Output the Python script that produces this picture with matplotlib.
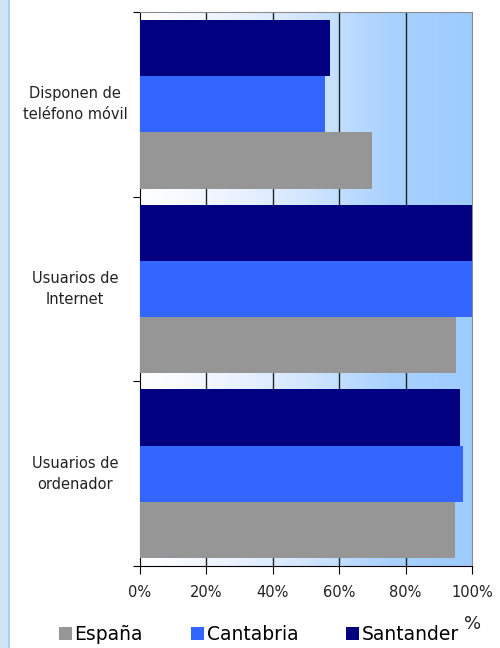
import matplotlib.pyplot as plt
import numpy as np
from matplotlib.patches import Rectangle
from matplotlib.colors import LinearSegmentedColormap

# data (bottom to top)
categories = ['Usuarios de\nordenador', 'Usuarios de\nInternet', 'Disponen de\nteléfono móvil']
espana = [94.9, 95.2, 69.9]
cantabria = [97.3, 100.0, 55.7]
santander = [96.4, 100.0, 57.2]
series = ['España', 'Cantabria', 'Santander']
colors = ['#969696', '#3366FF', '#000080']
xticks = [0, 20, 40, 60, 80, 100]

fig = plt.figure(figsize=(5, 6.48), dpi=100)
fig.patch.set_facecolor('white')

# left page strip
fig.patches.append(Rectangle((0, 0), 8 / 500, 1, transform=fig.transFigure,
                             facecolor='#CFE4F6', edgecolor='none', zorder=0))
fig.patches.append(Rectangle((8 / 500, 0), 2 / 500, 1, transform=fig.transFigure,
                             facecolor='#A6CFF5', edgecolor='none', zorder=0))

ax = fig.add_axes([140 / 500, 1 - 566 / 648, 332 / 500, 554 / 648])

# gradient background
cmap = LinearSegmentedColormap.from_list('bg', ['#FFFFFF', '#EEF4FF', '#D2E6FF', '#A9D1FF', '#9DCBFE'])
grad = np.linspace(0, 1, 256).reshape(1, -1)
ax.imshow(grad, cmap=cmap, extent=[0, 100, -0.5, 2.5], aspect='auto', zorder=0)

y = np.arange(len(categories))
h = 0.304
ax.barh(y - h, espana, height=h, color=colors[0], label=series[0], zorder=3)
ax.barh(y, cantabria, height=h, color=colors[1], label=series[1], zorder=3)
ax.barh(y + h, santander, height=h, color=colors[2], label=series[2], zorder=3)

for v in xticks[1:-1]:
    ax.axvline(v, color='#222222', lw=1, zorder=1)

ax.set_xlim(0, 100)
ax.set_ylim(-0.5, 2.5)
ax.set_xticks(xticks)
ax.set_xticklabels([f'{v}%' for v in xticks], fontsize=10.5, color='#222222')
ax.tick_params(axis='x', length=6, pad=8, color='black')

# category labels centred left of the axis
ax.set_yticks([-0.5, 0.5, 1.5, 2.5])
ax.set_yticklabels([])
ax.tick_params(axis='y', length=5, color='black')
for yi, lab in zip(y, categories):
    ax.text(-65 / 332, yi, lab, transform=ax.get_yaxis_transform(), fontsize=10.5,
            color='#222222', ha='center', va='center', linespacing=1.5)

for s in ['top', 'right']:
    ax.spines[s].set_color('#8C8C8C')
for s in ['left', 'bottom']:
    ax.spines[s].set_color('black')

ax.legend(loc='center left', bbox_to_anchor=(-0.268, -0.124), ncol=3, frameon=False,
          fontsize=13.5, handlelength=0.7, handleheight=0.7, handletextpad=0.15,
          columnspacing=2.55, borderaxespad=0)
fig.text(473 / 500, 1 - 624 / 648, '%', fontsize=13, color='#222222', ha='center', va='center')

fig.savefig('out.png', dpi=100)
